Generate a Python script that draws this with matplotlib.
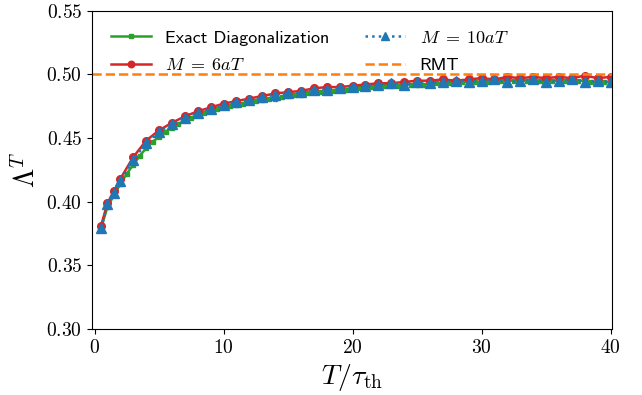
import numpy as np
import matplotlib
matplotlib.use("Agg")
import matplotlib.pyplot as plt

plt.rcParams["font.family"] = "cmr10"
plt.rcParams["mathtext.fontset"] = "cm"
plt.rcParams["axes.formatter.use_mathtext"] = True

# exact diagonalization, every 0.5 in T/tau_th
T_ed = np.arange(1, 81) * 0.5
lam_ed = [0.379, 0.396, 0.405, 0.414, 0.422, 0.429, 0.436, 0.442, 0.447, 0.451,
          0.455, 0.458, 0.461, 0.464, 0.466, 0.468, 0.470, 0.472, 0.473, 0.474,
          0.475, 0.476, 0.477, 0.478, 0.479, 0.480, 0.481, 0.481, 0.482, 0.483,
          0.484, 0.484, 0.485, 0.486, 0.486, 0.487, 0.487, 0.488, 0.488, 0.489,
          0.489, 0.490, 0.490, 0.490, 0.491, 0.491, 0.491, 0.492, 0.492, 0.492,
          0.492, 0.493, 0.493, 0.493, 0.493, 0.493, 0.494, 0.494, 0.494, 0.494,
          0.494, 0.495, 0.495, 0.495, 0.495, 0.495, 0.495, 0.495, 0.495, 0.495,
          0.495, 0.495, 0.495, 0.495, 0.495, 0.495, 0.494, 0.494, 0.494, 0.494]

# matrix-product runs
T_m = [0.5, 1, 1.5, 2] + list(range(3, 41))
lam_m6 = [0.381, 0.399, 0.408, 0.418, 0.435, 0.448, 0.456, 0.462, 0.467, 0.471,
          0.474, 0.477, 0.479, 0.481, 0.483, 0.485, 0.486, 0.487, 0.489, 0.490,
          0.490, 0.491, 0.492, 0.493, 0.493, 0.494, 0.495, 0.495, 0.496, 0.495,
          0.496, 0.497, 0.496, 0.498, 0.497, 0.498, 0.497, 0.498, 0.497, 0.499,
          0.497, 0.498]
lam_m10 = [0.379, 0.398, 0.407, 0.416, 0.433, 0.446, 0.455, 0.461, 0.466, 0.470,
           0.473, 0.476, 0.478, 0.480, 0.482, 0.484, 0.485, 0.486, 0.488, 0.488,
           0.489, 0.490, 0.491, 0.492, 0.493, 0.492, 0.494, 0.493, 0.494, 0.495,
           0.494, 0.495, 0.496, 0.494, 0.495, 0.496, 0.494, 0.495, 0.496, 0.494,
           0.495, 0.494]
rmt = 0.5

fig = plt.figure(figsize=(6.42, 3.95), dpi=100)
ax = fig.add_axes([0.1433, 0.167, 0.8107, 0.806])

ax.plot(T_ed, lam_ed, "-s", color="C2", ms=3, lw=1.8, label="Exact Diagonalization")
ax.plot(T_m, lam_m6, "-o", color="C3", ms=5.5, lw=1.8, label=r"$M \;=\; 6aT$")
ax.plot(T_m, lam_m10, ":^", color="C0", ms=6.5, lw=1.8, label=r"$M \;=\; 10aT$")
ax.axhline(rmt, ls="--", color="C1", lw=1.8, label="RMT")

ax.set_xlim(-0.2, 40.15)
ax.set_ylim(0.30, 0.55)
ax.set_xticks([0, 10, 20, 30, 40])
ax.set_yticks(np.arange(0.30, 0.551, 0.05))
ax.tick_params(labelsize=14)
ax.set_xlabel(r"$T/\tau_{\rm th}$", fontsize=20)
ax.set_ylabel(r"$\Lambda^T$", fontsize=20)
ax.legend(ncol=2, frameon=False, loc="upper left", handlelength=2.2,
          labelspacing=0.65, borderaxespad=0.65, markerscale=0.85,
          prop={"family": "cmss10", "size": 13})

fig.savefig("out.png", dpi=100)
